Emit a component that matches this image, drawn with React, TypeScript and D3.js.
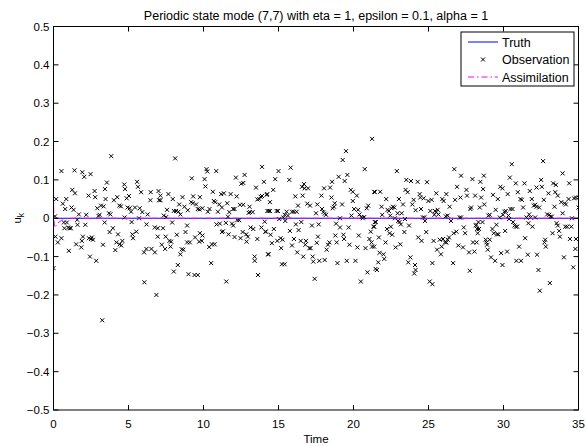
import React from "react";
import * as d3 from "d3";

const titleText = "Periodic state mode (7,7) with eta = 1, epsilon = 0.1, alpha = 1";
const xTicks = [0, 5, 10, 15, 20, 25, 30, 35];
const yTicks = [-0.5, -0.4, -0.3, -0.2, -0.1, 0, 0.1, 0.2, 0.3, 0.4, 0.5];
const legendLabels = ["Truth", "Observation", "Assimilation"];

// Truth: constant zero state
const truthTime = [0, 35];
const truthValue = [0, 0];

// Assimilation: starts off, converges to the truth
const assimTime = [0, 0.02, 0.08, 0.3, 0.55, 1.0, 35];
const assimValue = [0.1, 0.0, -0.025, -0.012, -0.005, 0, 0];

// Observations [time, value]
const observations: [number, number][] = [
  [0, -0.13], [0.1, 0.005], [0.13, -0.048], [0.18, 0.05], [0.29, -0.063], [0.53, 0.123], [0.53, -0.052], [0.62, 0.038],
  [0.69, -0.011], [0.73, -0.026], [0.78, 0.024], [0.85, 0.05], [0.89, -0.011], [0.98, -0.024], [1.02, -0.085], [1.07, -0.026],
  [1.16, -0.026], [1.2, 0.028], [1.25, 0.074], [1.34, 0.022], [1.4, 0.125], [1.43, 0.065], [1.51, -0.068], [1.58, -0.004],
  [1.6, -0.017], [1.69, 0.01], [1.85, -0.076], [1.89, -0.059], [1.92, 0.12], [1.96, -0.048], [2.05, 0.108], [2.12, -0.017],
  [2.18, 0.009], [2.34, 0.059], [2.36, -0.052], [2.43, -0.1], [2.47, 0.115], [2.5, -0.054], [2.56, -0.05], [2.63, -0.056],
  [2.74, 0.071], [2.78, 0.055], [2.85, -0.111], [2.92, 0.026], [3.0, 0.006], [3.07, 0.009], [3.16, 0.033], [3.25, -0.266],
  [3.3, -0.069], [3.34, 0.031], [3.41, -0.011], [3.43, 0.076], [3.47, 0.05], [3.56, 0.093], [3.7, 0.013], [3.74, -0.036],
  [3.79, 0.01], [3.85, 0.162], [3.96, -0.026], [4.03, 0.047], [4.12, -0.083], [4.19, -0.063], [4.25, 0.055], [4.3, -0.042],
  [4.39, 0.033], [4.41, -0.068], [4.5, 0.031], [4.52, -0.071], [4.59, -0.059], [4.72, 0.088], [4.74, 0.002], [4.77, 0.076],
  [4.88, 0.052], [4.94, 0.028], [5.03, 0.058], [5.08, 0.026], [5.17, 0.017], [5.21, -0.01], [5.26, -0.042], [5.3, -0.052],
  [5.43, 0.028], [5.52, -0.035], [5.57, 0.095], [5.63, 0.082], [5.7, 0.0], [5.75, 0.026], [5.84, 0.068], [5.92, 0.016],
  [6.04, -0.089], [6.06, -0.167], [6.19, -0.08], [6.2, -0.016], [6.28, 0.01], [6.46, 0.047], [6.48, 0.068], [6.53, -0.08],
  [6.75, -0.024], [6.76, -0.089], [6.86, -0.2], [7.0, 0.071], [7.04, 0.047],
  [7.13, 0.059], [7.13, 0.047], [6.95, -0.026], [7.3, -0.026], [6.95, -0.048], [7.22, -0.069], [7.44, -0.08], [7.35, 0.007],
  [7.51, 0.003], [7.57, 0.022], [7.48, -0.048], [7.66, 0.063], [7.73, -0.059], [7.84, -0.061], [7.8, -0.074], [7.91, -0.011],
  [7.95, 0.05], [8.02, 0.019], [8.17, 0.019], [8.33, 0.017], [8.11, 0.156], [8.02, -0.139], [8.22, -0.043], [8.29, -0.122],
  [8.38, 0.036], [8.46, 0.01], [8.46, -0.094], [8.55, -0.081], [8.66, -0.082], [8.6, 0.055], [8.73, 0.03], [8.8, -0.036],
  [8.91, -0.019], [8.91, -0.063], [9.09, -0.063], [8.95, 0.021], [9.0, -0.146], [9.22, 0.104], [9.18, 0.042], [9.29, 0.039],
  [9.31, 0.057], [9.4, -0.148], [9.62, -0.148], [9.44, -0.05], [9.51, 0.036], [9.62, 0.024], [9.73, 0.023], [9.76, 0.055],
  [9.76, -0.039], [9.93, -0.045], [9.71, -0.061], [9.89, -0.059], [9.93, 0.026], [10.07, 0.102], [10.13, 0.083], [10.2, 0.128],
  [10.25, 0.122], [10.29, 0.017], [10.4, 0.024], [10.38, -0.075], [10.56, -0.068], [10.74, -0.068], [10.51, -0.117], [10.62, 0.069],
  [10.69, 0.045], [10.78, 0.042], [10.85, 0.123], [10.87, -0.016], [11.09, -0.014], [10.96, 0.017], [11.05, 0.036], [11.23, 0.028],
  [11.18, 0.063], [11.36, 0.065], [11.23, -0.036], [11.3, -0.034], [11.52, -0.165], [11.49, -0.012], [11.58, 0.039], [11.63, 0.004],
  [11.72, 0.016], [11.67, -0.042], [11.81, 0.063], [11.9, -0.014], [11.98, -0.019], [11.98, 0.024], [12.07, 0.024], [12.07, -0.049],
  [12.16, 0.106], [12.21, 0.057], [12.25, -0.005], [12.38, -0.005], [12.43, 0.035], [12.65, 0.035], [12.47, -0.052], [12.52, 0.09],
  [12.65, 0.092], [12.61, -0.036], [12.74, 0.113], [12.85, -0.042], [12.96, -0.048], [12.87, -0.061], [13.01, 0.014], [13.1, 0.016],
  [13.28, 0.016], [13.07, 0.03], [13.14, -0.024], [13.32, -0.028], [13.41, -0.1], [13.41, -0.111], [13.5, 0.08], [13.59, 0.049],
  [13.72, 0.05], [13.59, -0.054], [13.63, -0.148], [13.81, 0.056], [13.9, 0.058], [13.9, 0.134], [13.86, -0.024], [14.03, 0.095],
  [14.08, -0.009], [14.12, -0.035], [14.21, 0.061], [14.26, 0.019], [14.3, -0.094],
  [14.25, 0.063], [14.16, -0.035], [14.34, 0.019], [14.43, 0.019], [14.43, 0.042], [14.34, -0.094], [14.47, -0.043], [14.56, -0.065],
  [14.65, 0.074], [14.69, -0.028], [14.78, 0.102], [14.87, 0.019], [14.96, 0.019], [14.92, -0.059], [15.0, 0.123], [15.05, -0.002],
  [15.14, -0.052], [15.27, -0.056], [15.18, -0.078], [15.23, -0.12], [15.41, -0.12], [15.32, 0.002], [15.45, -0.007], [15.41, 0.009],
  [15.54, 0.017], [15.63, 0.007], [15.72, 0.1], [15.81, 0.132], [15.76, -0.033], [15.9, 0.017], [16.03, 0.017], [16.21, 0.017],
  [15.9, -0.071], [16.03, -0.054], [16.12, 0.057], [16.16, -0.016], [16.25, -0.089], [16.3, 0.033], [16.34, -0.031], [16.48, -0.059],
  [16.52, -0.01], [16.57, 0.082], [16.7, 0.089], [16.74, 0.078], [16.61, 0.059], [16.65, -0.1], [16.79, -0.069], [16.83, -0.059],
  [16.92, 0.038], [16.97, 0.078], [17.06, -0.078], [17.14, -0.078], [17.1, 0.033], [17.23, -0.019], [17.28, -0.1], [17.32, -0.113],
  [17.41, -0.158], [17.5, 0.013], [17.55, -0.064], [17.59, 0.036], [17.63, -0.048], [17.68, -0.016], [17.72, -0.111], [17.86, 0.059],
  [17.9, 0.024], [17.99, 0.016], [18.08, 0.012], [18.17, 0.009], [18.04, 0.078], [18.08, -0.109], [18.21, -0.082], [18.3, -0.069],
  [18.39, -0.063], [18.44, 0.08], [18.53, 0.054], [18.57, 0.095], [18.61, 0.026], [18.7, 0.03], [18.75, 0.039], [18.79, -0.045],
  [18.88, -0.063], [18.84, -0.014], [18.93, -0.117], [19.01, 0.108], [19.1, 0.0], [19.1, -0.024], [19.24, 0.036], [19.28, 0.152],
  [19.33, -0.043], [19.37, -0.054], [19.41, 0.097], [19.5, 0.175], [19.55, -0.111], [19.59, 0.113], [19.68, -0.024], [19.73, -0.069],
  [19.82, 0.074], [19.95, 0.069], [19.86, 0.007], [19.95, 0.045], [20.04, 0.024], [20.13, -0.111], [20.22, 0.059], [20.26, -0.076],
  [20.31, 0.022], [20.35, -0.045], [20.4, 0.01], [20.53, 0.003], [20.62, 0.0], [20.71, 0.003], [20.49, -0.165], [20.75, 0.128],
  [20.8, -0.078], [20.88, 0.026], [20.93, -0.141], [20.98, 0.033], [21.06, -0.054], [21.15, -0.035], [21.2, -0.063], [21.24, 0.207],
  [21.24, -0.074], [21.33, -0.022], [21.38, 0.069], [21.42, -0.01], [21.47, -0.132],
  [21.42, 0.068], [21.49, -0.01], [21.38, -0.022], [21.38, -0.074], [21.56, -0.135], [21.65, -0.115], [21.69, -0.05], [21.74, -0.09],
  [21.78, 0.069], [21.87, 0.03], [21.91, 0.009], [22.0, -0.094], [22.05, -0.106], [22.14, -0.063], [22.18, 0.05], [22.23, -0.028],
  [22.27, 0.022], [22.36, 0.019], [22.4, -0.039], [22.58, -0.043], [22.45, 0.007], [22.49, -0.022], [22.54, 0.026], [22.63, 0.03],
  [22.72, 0.028], [22.76, 0.0], [22.81, -0.076], [22.89, 0.123], [22.94, 0.013], [22.98, -0.007], [23.07, -0.01], [23.03, 0.05],
  [23.12, -0.068], [23.16, -0.016], [23.21, 0.013], [23.3, 0.036], [23.39, -0.036], [23.43, -0.002], [23.47, 0.074], [23.52, 0.1],
  [23.61, 0.068], [23.65, -0.115], [23.7, -0.019], [23.79, -0.102], [23.83, 0.097], [23.92, 0.036], [24.01, 0.048], [24.1, -0.122],
  [24.14, -0.135], [24.05, -0.144], [24.14, 0.021], [24.28, 0.095], [24.32, -0.05], [24.41, 0.063], [24.45, 0.054], [24.5, 0.024],
  [24.54, -0.059], [24.63, 0.002], [24.72, 0.002], [24.68, 0.052], [24.77, -0.007], [24.85, -0.036], [24.9, 0.094], [24.99, 0.045],
  [25.08, -0.165], [25.26, -0.172], [25.12, 0.019], [25.21, 0.048], [25.26, -0.117], [25.34, -0.059], [25.39, 0.009], [25.43, 0.019],
  [25.52, 0.016], [25.61, 0.022], [25.52, 0.065], [25.57, -0.082], [25.66, 0.01], [25.75, -0.056], [25.83, -0.094], [25.88, -0.074],
  [25.92, 0.05], [26.01, 0.045], [25.97, -0.054], [26.1, -0.063], [26.19, -0.063], [26.28, -0.056], [26.15, 0.005], [26.28, 0.007],
  [26.19, 0.063], [26.37, -0.05], [26.41, 0.03], [26.5, -0.007], [26.64, -0.117], [26.68, -0.039], [26.72, 0.128], [26.77, 0.048],
  [26.86, -0.035], [26.9, 0.082], [26.99, -0.071], [27.08, 0.002], [27.17, 0.002], [27.13, 0.054], [27.17, 0.111], [27.3, -0.076],
  [27.35, -0.024], [27.44, -0.039], [27.53, 0.074], [27.57, 0.059], [27.7, -0.089], [27.75, -0.137], [27.79, 0.024], [27.84, 0.028],
  [27.93, 0.102], [27.97, -0.063], [28.06, -0.087], [28.11, 0.059], [28.15, -0.019], [28.24, -0.028], [28.28, -0.039], [28.33, -0.01],
  [28.42, 0.028], [28.46, 0.095], [28.51, 0.054], [28.6, -0.01], [28.64, 0.076], [28.69, 0.111],
  [28.19, -0.017], [28.37, -0.028], [28.21, -0.063], [28.72, 0.036], [28.81, -0.056], [28.86, -0.063], [28.9, -0.069], [28.95, -0.082],
  [28.99, 0.007], [29.08, 0.009], [29.08, -0.056], [29.17, -0.102], [29.26, -0.028], [29.3, 0.061], [29.35, -0.039], [29.44, -0.111],
  [29.48, 0.022], [29.53, -0.017], [29.57, -0.042], [29.66, -0.042], [29.62, 0.05], [29.75, 0.002], [29.79, 0.082], [29.93, 0.078],
  [29.84, -0.091], [29.93, -0.122], [29.97, 0.009], [30.06, 0.017], [30.11, -0.033], [30.15, 0.019], [30.24, -0.087], [30.28, 0.063],
  [30.33, 0.007], [30.37, -0.002], [30.42, 0.106], [30.46, 0.024], [30.6, 0.024], [30.55, 0.141], [30.64, -0.01], [30.73, -0.019],
  [30.82, -0.022], [30.91, -0.022], [30.82, 0.091], [30.86, -0.111], [31.17, -0.111], [30.95, 0.068], [31.04, -0.074], [31.13, 0.05],
  [31.22, 0.048], [31.31, 0.028], [31.4, 0.091], [31.44, -0.052], [31.53, 0.002], [31.62, -0.095], [31.66, -0.013], [31.71, 0.01],
  [31.8, 0.002], [31.75, 0.071], [31.89, 0.05], [31.93, -0.022], [32.02, 0.033], [32.11, 0.035], [32.2, 0.03], [32.11, 0.002],
  [32.2, 0.08], [32.24, -0.095], [32.33, -0.135], [32.38, 0.028], [32.42, -0.189], [32.51, 0.1], [32.56, 0.082], [32.64, 0.149],
  [32.69, 0.048], [32.73, -0.063], [32.78, -0.056], [32.82, -0.074], [32.91, 0.01], [33.05, 0.009], [33.14, 0.004], [33.22, 0.004],
  [33.0, 0.065], [33.09, -0.169], [33.27, -0.039], [33.31, 0.091], [33.49, 0.087], [33.4, 0.03], [33.45, 0.068], [33.54, -0.013],
  [33.62, -0.019], [33.62, 0.059], [33.71, -0.033], [33.76, -0.048], [33.85, 0.042], [33.94, 0.013], [33.94, 0.117], [34.03, -0.102],
  [34.07, 0.039], [34.16, 0.036], [34.12, -0.022], [34.25, -0.022], [34.52, -0.022], [34.34, 0.05], [34.38, 0.091], [34.43, -0.054],
  [34.56, 0.0], [34.65, -0.128], [34.7, 0.052], [34.83, 0.054], [34.79, -0.08], [34.83, -0.054], [35.0, 0.054], [35.0, 0.028],
];

const W = 586;
const H = 446;
const left = 53.5;
const right = 578.5;
const top = 26.5;
const bottom = 410;
const FONT = "'Liberation Sans', Arial, Helvetica, sans-serif";
const DASHDOT = "6,3,1.5,3";

export default function App() {
  const x = d3.scaleLinear().domain([0, 35]).range([left, right]);
  const y = d3.scaleLinear().domain([-0.5, 0.5]).range([bottom, top]);
  const line = d3
    .line<[number, number]>()
    .x((d) => x(d[0]))
    .y((d) => y(d[1]));
  const truth = line(truthTime.map((t, i) => [t, truthValue[i]] as [number, number])) || "";
  const assim = line(assimTime.map((t, i) => [t, assimValue[i]] as [number, number])) || "";
  const fmt = (v: number) => {
    const s = Math.abs(v) < 1e-9 ? "0" : d3.format(".1f")(Math.abs(v));
    return v < -1e-9 ? "\u2212" + s : s;
  };
  const ms = 2;
  const lx = 461, ly = 32, lw = 113, lh = 54;
  const rowsY = [42, 59.5, 77];

  return (
    <svg
      width={W}
      height={H}
      style={{ position: "absolute", left: 0, top: 0, background: "#fff" }}
      fontFamily={FONT}
    >
      <rect x={0} y={0} width={W} height={H} fill="#fff" />
      <defs>
        <clipPath id="plotclip">
          <rect x={left} y={top} width={right - left} height={bottom - top} />
        </clipPath>
      </defs>
      <g clipPath="url(#plotclip)">
        <path d={truth} fill="none" stroke="#0000ff" strokeWidth={1} />
        <g stroke="#000" strokeWidth={1}>
          {observations.map((d, i) => {
            const cx = x(d[0]);
            const cy = y(d[1]);
            return (
              <path
                key={i}
                d={`M${cx - ms},${cy - ms}L${cx + ms},${cy + ms}M${cx - ms},${cy + ms}L${cx + ms},${cy - ms}`}
              />
            );
          })}
        </g>
        <path d={assim} fill="none" stroke="#ff00ff" strokeWidth={1} strokeDasharray={DASHDOT} />
      </g>
      <rect x={left} y={top} width={right - left} height={bottom - top} fill="none" stroke="#000" strokeWidth={1} />
      {xTicks.map((t) => (
        <g key={"x" + t}>
          <line x1={x(t)} x2={x(t)} y1={bottom} y2={bottom - 5} stroke="#000" />
          <line x1={x(t)} x2={x(t)} y1={top} y2={top + 5} stroke="#000" />
          <text x={x(t)} y={428} textAnchor="middle" fontSize={11.5}>
            {t}
          </text>
        </g>
      ))}
      {yTicks.map((t) => (
        <g key={"y" + t}>
          <line x1={left} x2={left + 5} y1={y(t)} y2={y(t)} stroke="#000" />
          <line x1={right} x2={right - 5} y1={y(t)} y2={y(t)} stroke="#000" />
          <text x={left - 4} y={y(t) + 4} textAnchor="end" fontSize={11.5}>
            {fmt(t)}
          </text>
        </g>
      ))}
      <text x={(left + right) / 2} y={20} textAnchor="middle" fontSize={12.5}>
        {titleText}
      </text>
      <text x={(left + right) / 2} y={443} textAnchor="middle" fontSize={11.5}>
        Time
      </text>
      <text transform={`translate(21,${y(0)}) rotate(-90)`} textAnchor="middle" fontSize={11.5}>
        u<tspan fontSize={8.5} dy={3}>k</tspan>
      </text>
      <rect x={lx} y={ly} width={lw} height={lh} fill="#fff" stroke="#000" strokeWidth={1} />
      <line x1={468} x2={498} y1={rowsY[0]} y2={rowsY[0]} stroke="#0000ff" strokeWidth={1} />
      <path
        d={`M${483 - ms},${rowsY[1] - ms}L${483 + ms},${rowsY[1] + ms}M${483 - ms},${rowsY[1] + ms}L${483 + ms},${rowsY[1] - ms}`}
        stroke="#000"
        strokeWidth={1}
      />
      <line x1={468} x2={498} y1={rowsY[2]} y2={rowsY[2]} stroke="#ff00ff" strokeWidth={1} strokeDasharray={DASHDOT} />
      {legendLabels.map((l, i) => (
        <text key={l} x={502} y={rowsY[i] + 4.5} fontSize={12.5}>
          {l}
        </text>
      ))}
    </svg>
  );
}
